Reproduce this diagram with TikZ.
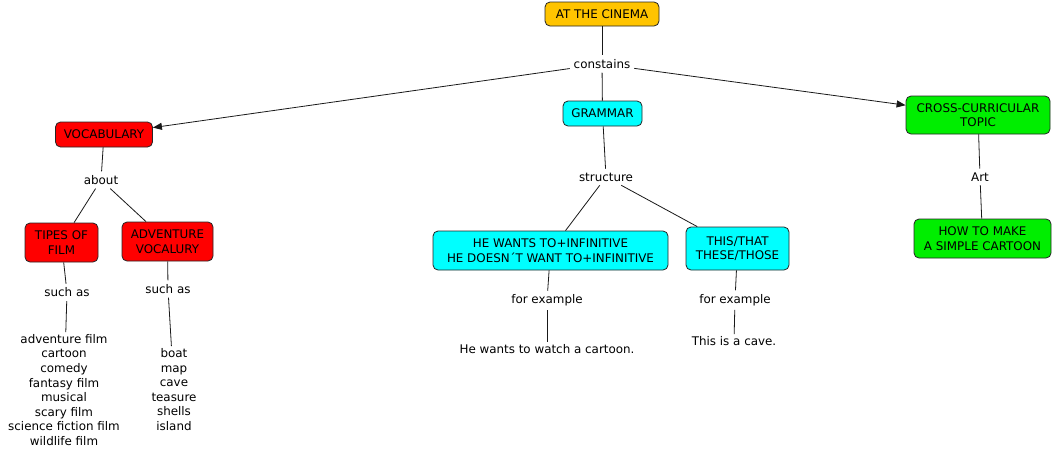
\documentclass[tikz,border=0pt]{standalone}
\usepackage{fontspec}
\setmainfont{DejaVu Sans}
\usetikzlibrary{arrows.meta}
\definecolor{cgold}{HTML}{FFC400}
\definecolor{cred}{HTML}{FF0000}
\definecolor{ccyan}{HTML}{00FFFF}
\definecolor{cgreen}{HTML}{00EE00}
\begin{document}
\begin{tikzpicture}[x=1pt,y=-1pt,
  every node/.style={font=\fontsize{11.9}{14.6}\selectfont, align=center, text=black},
  concept/.style={draw=black!85, line width=0.8pt, rounded corners=5pt, inner sep=0pt},
  lbl/.style={inner sep=3pt, outer sep=1pt},
  conn/.style={draw=black!90, line width=0.8pt},
  arr/.style={conn, -{Triangle[length=9pt,width=7pt]}}
]
\useasboundingbox (0,0) rectangle (1054,456);
\fill[white] (0,0) rectangle (1054,456);

% concepts
\node[concept, fill=cgold, minimum width=114, minimum height=24] (cinema) at (602,14) {AT THE CINEMA};
\node[concept, fill=cred, minimum width=97, minimum height=25] (vocab) at (104,134.5) {VOCABULARY};
\node[concept, fill=ccyan, minimum width=79, minimum height=25] (grammar) at (602.5,113.5) {GRAMMAR};
\node[concept, fill=cgreen, minimum width=144, minimum height=38] (cross) at (978,115) {CROSS-CURRICULAR\\TOPIC};
\node[concept, fill=cred, minimum width=73, minimum height=39] (tipes) at (61.5,242.5) {TIPES OF\\FILM};
\node[concept, fill=cred, minimum width=91, minimum height=39] (adv) at (167.5,241.5) {ADVENTURE\\VOCALURY};
\node[concept, fill=ccyan, minimum width=235, minimum height=39] (wants) at (550.5,250.5) {HE WANTS TO+INFINITIVE\\HE DOESN\,\'{}T WANT TO+INFINITIVE};
\node[concept, fill=ccyan, minimum width=103, minimum height=43] (this) at (737.5,248.5) {THIS/THAT\\THESE/THOSE};
\node[concept, fill=cgreen, minimum width=137, minimum height=39] (how) at (982.5,238.5) {HOW TO MAKE\\A SIMPLE CARTOON};

% linking phrases
\node[lbl] (contains) at (602,64) {constains};
\node[lbl] (about) at (101,180) {about};
\node[lbl] (structure) at (606,177) {structure};
\node[lbl] (art) at (980,177) {Art};
\node[lbl] (such1) at (67,292.5) {such as};
\node[lbl] (such2) at (168,289) {such as};
\node[lbl] (forex1) at (547,300.5) {for example};
\node[lbl] (forex2) at (735,300) {for example};

% leaf texts
\node[inner sep=2pt] (films) at (64,390) {adventure film\\cartoon\\comedy\\fantasy film\\musical\\scary film\\science fiction film\\wildlife film};
\node[inner sep=2pt] (words) at (174,389.5) {boat\\map\\cave\\teasure\\shells\\island};
\node[inner sep=2pt] (ex1) at (547,349) {He wants to watch a cartoon.};
\node[inner sep=2pt] (ex2) at (734,341) {This is a cave.};

% connectors
\draw[conn] (cinema) -- (contains);
\draw[arr] (contains) -- (vocab);
\draw[conn] (contains) -- (grammar);
\draw[arr] (contains) -- (cross);
\draw[conn] (vocab) -- (about);
\draw[conn] (about) -- (tipes);
\draw[conn] (about) -- (adv);
\draw[conn] (tipes) -- (such1);
\draw[conn] (such1) -- (films);
\draw[conn] (adv) -- (such2);
\draw[conn] (such2) -- (words);
\draw[conn] (grammar) -- (structure);
\draw[conn] (structure) -- (wants);
\draw[conn] (structure) -- (this);
\draw[conn] (wants) -- (forex1);
\draw[conn] (forex1) -- (ex1);
\draw[conn] (this) -- (forex2);
\draw[conn] (forex2) -- (ex2);
\draw[conn] (cross) -- (art);
\draw[conn] (art) -- (how);
\end{tikzpicture}
\end{document}
